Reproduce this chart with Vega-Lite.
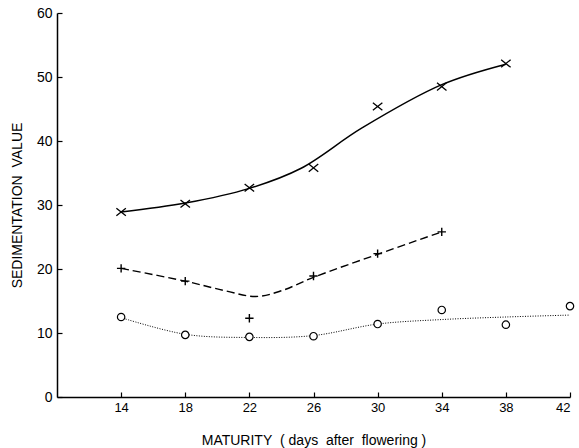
{
  "$schema": "https://vega.github.io/schema/vega-lite/v6.json",
  "width": 513,
  "height": 384,
  "autosize": {"type": "none"},
  "padding": {"left": 57, "top": 13, "right": 9, "bottom": 51},
  "background": "white",
  "config": {
    "view": {"stroke": null},
    "font": "Liberation Sans",
    "axis": {
      "domainColor": "black",
      "domainWidth": 1.5,
      "tickColor": "black",
      "tickWidth": 1.2,
      "labelColor": "black",
      "titleColor": "black",
      "grid": false,
      "labelFont": "Liberation Sans",
      "titleFont": "Liberation Sans",
      "titleFontWeight": "normal"
    }
  },
  "datasets": {
    "points": [
      {"series": "x", "day": 14, "value": 28.9},
      {"series": "x", "day": 18, "value": 30.2},
      {"series": "x", "day": 22, "value": 32.7},
      {"series": "x", "day": 26, "value": 35.8},
      {"series": "x", "day": 30, "value": 45.4},
      {"series": "x", "day": 34, "value": 48.5},
      {"series": "x", "day": 38, "value": 52.1},
      {"series": "plus", "day": 14, "value": 20.1},
      {"series": "plus", "day": 18, "value": 18.1},
      {"series": "plus", "day": 22, "value": 12.3},
      {"series": "plus", "day": 26, "value": 18.9},
      {"series": "plus", "day": 30, "value": 22.4},
      {"series": "plus", "day": 34, "value": 25.8},
      {"series": "o", "day": 14, "value": 12.5},
      {"series": "o", "day": 18, "value": 9.7},
      {"series": "o", "day": 22, "value": 9.4},
      {"series": "o", "day": 26, "value": 9.5},
      {"series": "o", "day": 30, "value": 11.4},
      {"series": "o", "day": 34, "value": 13.6},
      {"series": "o", "day": 38, "value": 11.3},
      {"series": "o", "day": 42, "value": 14.2}
    ],
    "curves": [
      {"series": "x", "day": 14, "value": 28.9},
      {"series": "x", "day": 18, "value": 30.3},
      {"series": "x", "day": 22, "value": 32.6},
      {"series": "x", "day": 25.2, "value": 35.7},
      {"series": "x", "day": 29, "value": 42.0},
      {"series": "x", "day": 34, "value": 48.8},
      {"series": "x", "day": 38, "value": 52.0},
      {"series": "plus", "day": 14, "value": 20.1},
      {"series": "plus", "day": 18, "value": 18.1},
      {"series": "plus", "day": 20.5, "value": 16.6},
      {"series": "plus", "day": 22.4, "value": 15.7},
      {"series": "plus", "day": 24, "value": 16.6},
      {"series": "plus", "day": 26, "value": 18.7},
      {"series": "plus", "day": 30, "value": 22.3},
      {"series": "plus", "day": 34, "value": 25.8},
      {"series": "o", "day": 14, "value": 12.4},
      {"series": "o", "day": 18, "value": 9.8},
      {"series": "o", "day": 22, "value": 9.3},
      {"series": "o", "day": 26, "value": 9.6},
      {"series": "o", "day": 30, "value": 11.4},
      {"series": "o", "day": 34, "value": 12.1},
      {"series": "o", "day": 38, "value": 12.5},
      {"series": "o", "day": 42, "value": 12.8}
    ]
  },
  "encoding": {
    "x": {
      "field": "day",
      "type": "quantitative",
      "scale": {"domain": [10, 42], "nice": false, "zero": false},
      "axis": {
        "title": "MATURITY\u00a0\u00a0(\u00a0days\u00a0\u00a0after\u00a0\u00a0flowering\u00a0)",
        "values": [14, 18, 22, 26, 30, 34, 38, 42],
        "tickSize": -5,
        "labelFontSize": 13,
        "labelPadding": 9,
        "titleFontSize": 14,
        "titlePadding": 19
      }
    },
    "y": {
      "field": "value",
      "type": "quantitative",
      "scale": {"domain": [0, 60], "nice": false},
      "axis": {
        "title": "SEDIMENTATION\u00a0\u00a0VALUE",
        "values": [0, 10, 20, 30, 40, 50, 60],
        "tickSize": -5,
        "labelFontSize": 14,
        "labelPadding": 10,
        "titleFontSize": 14,
        "titlePadding": 12
      }
    }
  },
  "layer": [
    {
      "data": {"name": "curves"},
      "transform": [{"filter": "datum.series === 'x'"}],
      "mark": {"type": "line", "color": "black", "strokeWidth": 1.5, "interpolate": "catmull-rom"}
    },
    {
      "data": {"name": "curves"},
      "transform": [{"filter": "datum.series === 'plus'"}],
      "mark": {"type": "line", "color": "black", "strokeWidth": 1.4, "strokeDash": [8, 4], "interpolate": "catmull-rom"}
    },
    {
      "data": {"name": "curves"},
      "transform": [{"filter": "datum.series === 'o'"}],
      "mark": {"type": "line", "color": "black", "strokeWidth": 1, "strokeDash": [1, 1.5], "interpolate": "catmull-rom"}
    },
    {
      "data": {"name": "points"},
      "transform": [{"filter": "datum.series === 'x'"}],
      "mark": {"type": "point", "shape": "M-1,-0.8L1,0.8M-1,0.8L1,-0.8", "size": 90, "stroke": "black", "strokeWidth": 1.3, "filled": false, "opacity": 1}
    },
    {
      "data": {"name": "points"},
      "transform": [{"filter": "datum.series === 'plus'"}],
      "mark": {"type": "point", "shape": "M-1,0L1,0M0,-1L0,1", "size": 70, "stroke": "black", "strokeWidth": 1.4, "filled": false, "opacity": 1}
    },
    {
      "data": {"name": "points"},
      "transform": [{"filter": "datum.series === 'o'"}],
      "mark": {"type": "point", "shape": "circle", "size": 55, "stroke": "black", "strokeWidth": 1.2, "filled": false, "fill": "white", "opacity": 1}
    }
  ]
}
